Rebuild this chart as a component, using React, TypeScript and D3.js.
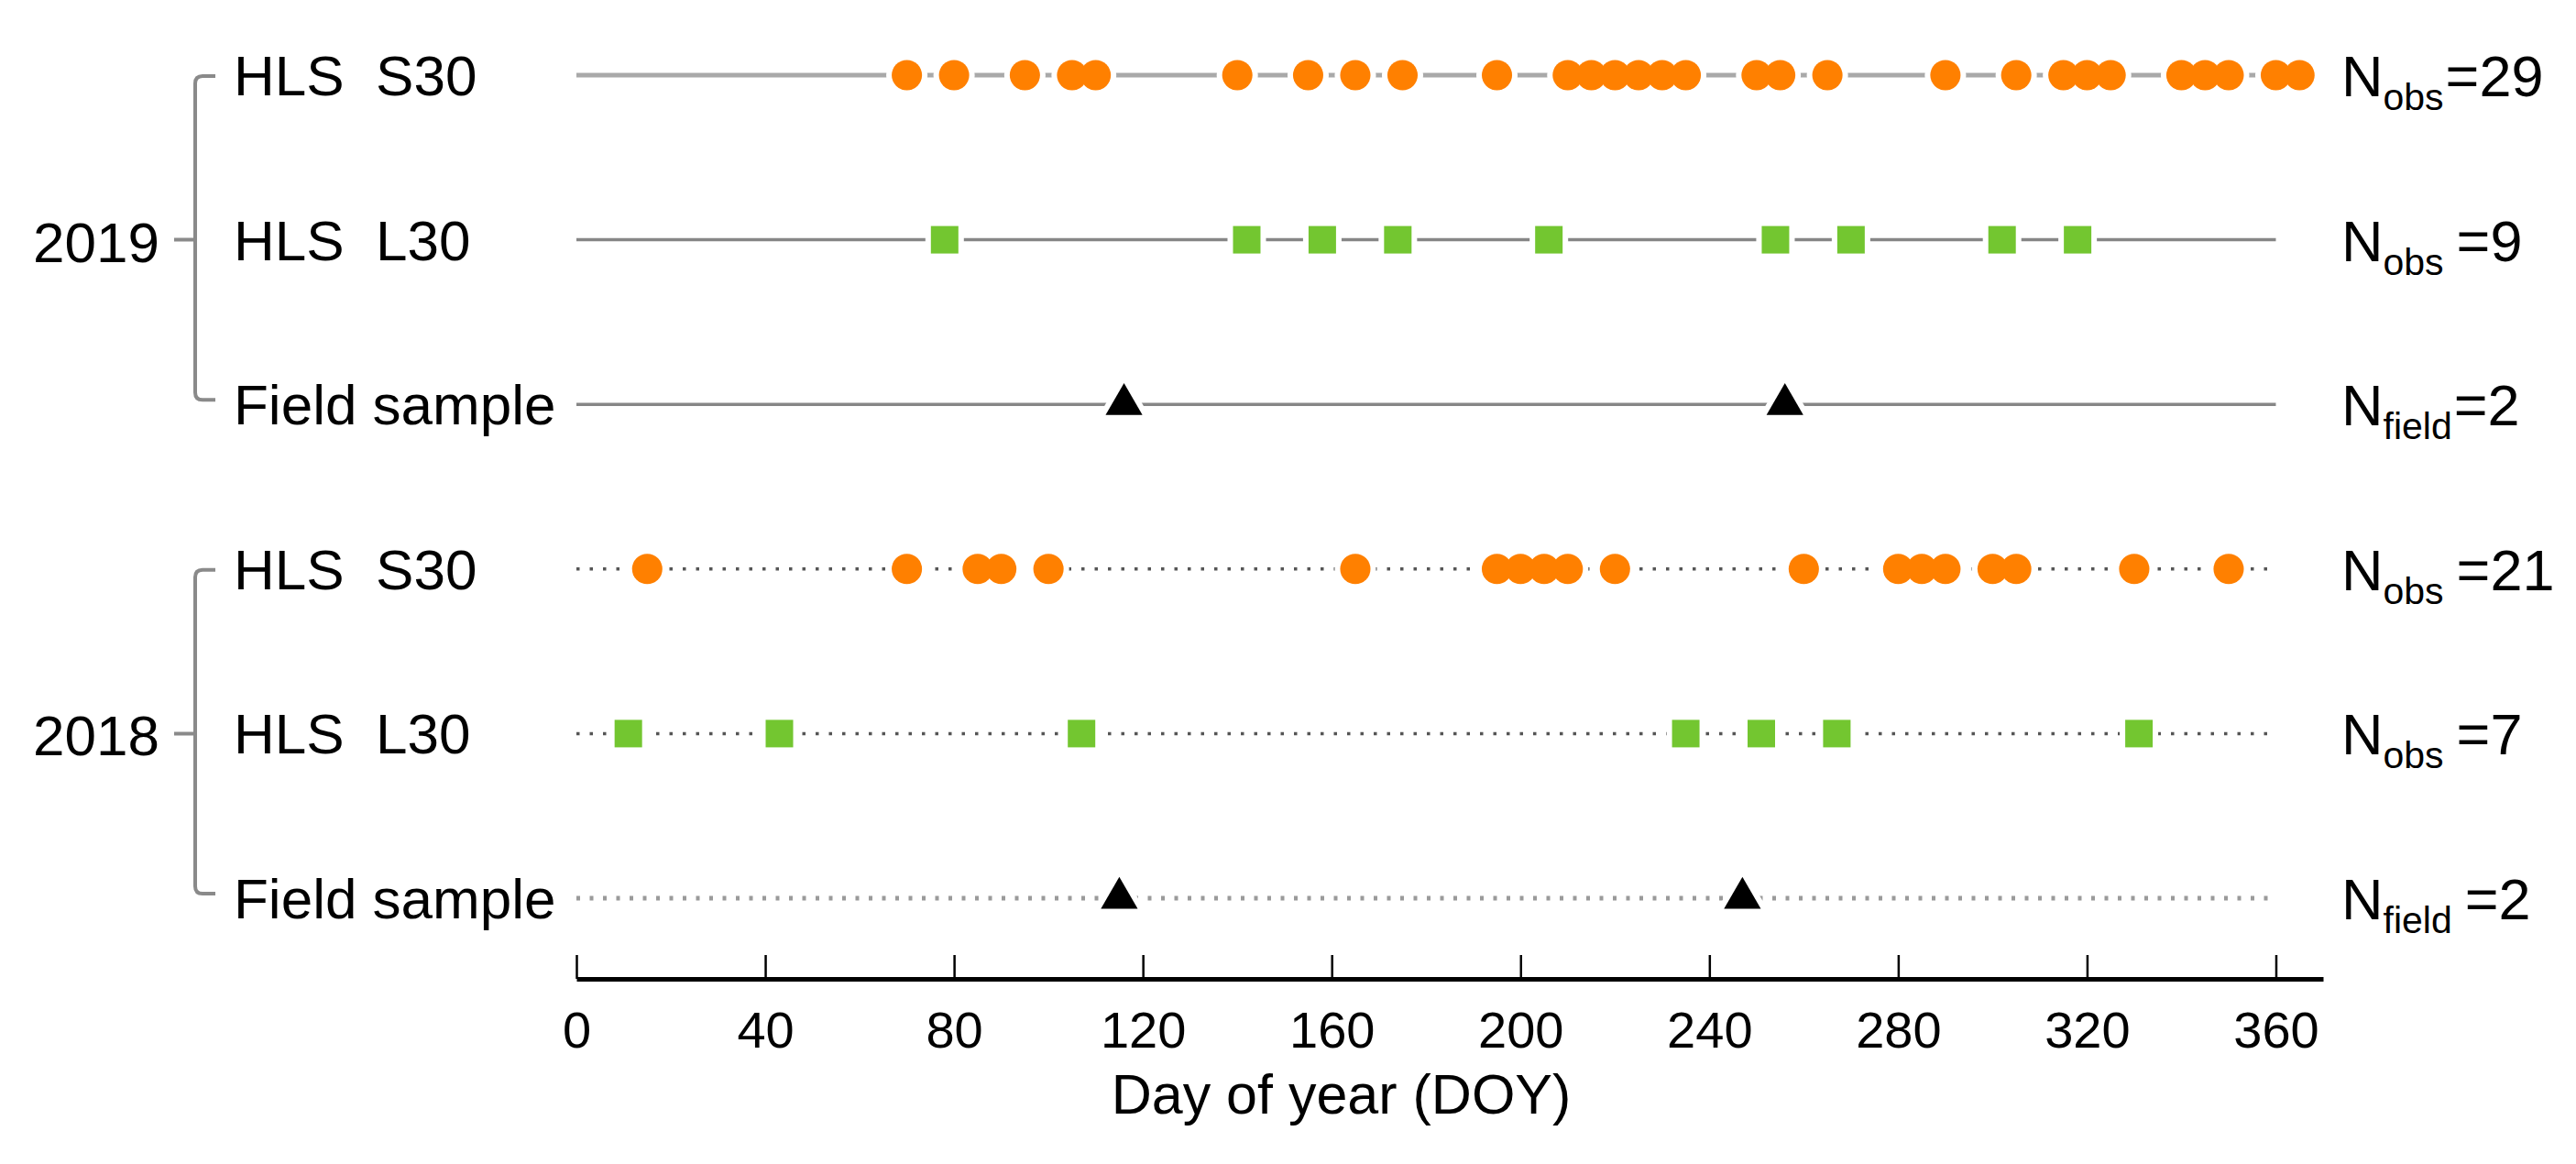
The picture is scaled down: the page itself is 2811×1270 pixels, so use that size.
import React, { useEffect, useRef } from 'react';
import * as d3 from 'd3';

const s30Doy2019 = [70, 80, 95, 105, 110, 140, 155, 165, 175, 195, 210, 215, 220, 225, 230, 235, 250, 255, 265, 290, 305, 315, 320, 325, 340, 345, 350, 360, 365];
const l30Doy2019 = [78, 142, 158, 174, 206, 254, 270, 302, 318];
const fieldDoy2019 = [116, 256];
const s30Doy2018 = [15, 70, 85, 90, 100, 165, 195, 200, 205, 210, 220, 260, 280, 285, 290, 300, 305, 330, 350];
const l30Doy2018 = [11, 43, 107, 235, 251, 267, 331];
const fieldDoy2018 = [115, 247];

const rowLabels = ['HLS  S30', 'HLS  L30', 'Field sample', 'HLS  S30', 'HLS  L30', 'Field sample'];
const rowKinds = ['s30', 'l30', 'field', 's30', 'l30', 'field'];
const rowYears = ['2019', '2019', '2019', '2018', '2018', '2018'];
const nSubs = ['obs', 'obs', 'field', 'obs', 'obs', 'field'];
const nCounts = [29, 9, 2, 21, 7, 2];
const nSpaced = [false, true, false, true, true, true];
const yearLabels = ['2019', '2018'];
const xTicks = [0, 40, 80, 120, 160, 200, 240, 280, 320, 360];

const rowDates = [s30Doy2019, l30Doy2019, fieldDoy2019, s30Doy2018, l30Doy2018, fieldDoy2018];

const W = 2811;
const H = 1270;
const FONT = '"Liberation Sans", Arial, Helvetica, sans-serif';

const markerStyle: Record<string, { type: d3.SymbolType; size: number; fill: string }> = {
  s30: { type: d3.symbolCircle, size: 860, fill: '#FF8000' },
  l30: { type: d3.symbolSquare, size: 900, fill: '#73C630' },
  field: { type: d3.symbolTriangle, size: 700, fill: '#000000' },
};

// line style per row: 2019 solid, 2018 dotted
const lineStyle = (kind: string, year: string) => {
  if (year === '2019') {
    return kind === 's30'
      ? { stroke: '#a9a9a9', width: 5, dash: undefined }
      : { stroke: '#868686', width: 3.5, dash: undefined };
  }
  return kind === 'field'
    ? { stroke: '#9a9a9a', width: 5, dash: '4,10.5' }
    : { stroke: '#555555', width: 3.5, dash: '3.5,11' };
};

export default function App() {
  const axisRef = useRef<SVGGElement>(null);

  const x = d3.scaleLinear().domain([0, 370]).range([629, 2535]);
  const rowIds = rowLabels.map((_, i) => String(i));
  const y = d3.scalePoint<string>().domain(rowIds).range([82, 980]);

  useEffect(() => {
    if (!axisRef.current) return;
    const g = d3.select(axisRef.current);
    g.selectAll('*').remove();
    const axis = d3.axisBottom(x)
      .tickValues(xTicks)
      .tickSizeInner(-26)
      .tickSizeOuter(0)
      .tickPadding(35)
      .tickFormat(d3.format('d'));
    g.call(axis as any);
    g.select('.domain').attr('stroke', '#000').attr('stroke-width', 5);
    g.selectAll('.tick line').attr('stroke', '#000').attr('stroke-width', 2.5);
    g.selectAll('.tick text')
      .attr('fill', '#000')
      .style('font-family', FONT)
      .style('font-size', '56px');
  }, []);

  const bracket = (top: number, mid: number, bot: number) => {
    const bx = 213;
    const r = 8;
    return `M235,${top} H${bx + r} Q${bx},${top} ${bx},${top + r} V${bot - r} Q${bx},${bot} ${bx + r},${bot} H235 M190,${mid} H${bx}`;
  };

  return (
    <svg
      width={W}
      height={H}
      style={{ position: 'absolute', left: 0, top: 0, background: '#fff', fontFamily: FONT }}
    >
      {/* row baselines */}
      {rowIds.map((id, i) => {
        const st = lineStyle(rowKinds[i], rowYears[i]);
        return (
          <line
            key={'l' + id}
            x1={x(0)}
            x2={x(360)}
            y1={y(id)}
            y2={y(id)}
            stroke={st.stroke}
            strokeWidth={st.width}
            strokeDasharray={st.dash}
          />
        );
      })}

      {/* white halos cut the lines around markers */}
      {rowIds.map((id, i) => {
        const m = markerStyle[rowKinds[i]];
        const path = d3.symbol().type(m.type).size(m.size)() || '';
        return rowDates[i].map((d, j) => (
          <path
            key={`h${id}-${j}`}
            d={path}
            transform={`translate(${x(d)},${y(id)})`}
            fill="#fff"
            stroke="#fff"
            strokeWidth={12}
            strokeLinejoin="round"
          />
        ));
      })}

      {/* markers */}
      {rowIds.map((id, i) => {
        const m = markerStyle[rowKinds[i]];
        const path = d3.symbol().type(m.type).size(m.size)() || '';
        return rowDates[i].map((d, j) => (
          <path
            key={`m${id}-${j}`}
            d={path}
            transform={`translate(${x(d)},${y(id)})`}
            fill={m.fill}
          />
        ));
      })}

      {/* row labels */}
      {rowIds.map((id, i) => (
        <text
          key={'t' + id}
          x={255}
          y={(y(id) ?? 0) + 22}
          fontSize={62}
          fill="#000"
          style={{ whiteSpace: 'pre' }}
        >
          {rowLabels[i]}
        </text>
      ))}

      {/* counts on the right */}
      {rowIds.map((id, i) => (
        <text key={'n' + id} x={2555} y={(y(id) ?? 0) + 23} fontSize={63} fill="#000">
          N
          <tspan fontSize={41} dy={15}>{nSubs[i]}</tspan>
          <tspan dy={-15} dx={nSpaced[i] ? 14 : 2}>{'=' + nCounts[i]}</tspan>
        </text>
      ))}

      {/* year brackets */}
      {yearLabels.map((yr, k) => {
        const top = (y(String(k * 3)) ?? 0) + 1;
        const mid = y(String(k * 3 + 1)) ?? 0;
        const bot = (y(String(k * 3 + 2)) ?? 0) - 5;
        return (
          <g key={'b' + yr}>
            <path d={bracket(top, mid, bot)} fill="none" stroke="#8a8a8a" strokeWidth={4} />
            <text x={174} y={mid + 24} fontSize={62} textAnchor="end" fill="#000">
              {yr}
            </text>
          </g>
        );
      })}

      {/* x axis */}
      <g ref={axisRef} transform="translate(0,1068)" />
      <text x={x(162)} y={1215} fontSize={61} textAnchor="middle" fill="#000">
        Day of year (DOY)
      </text>
    </svg>
  );
}
